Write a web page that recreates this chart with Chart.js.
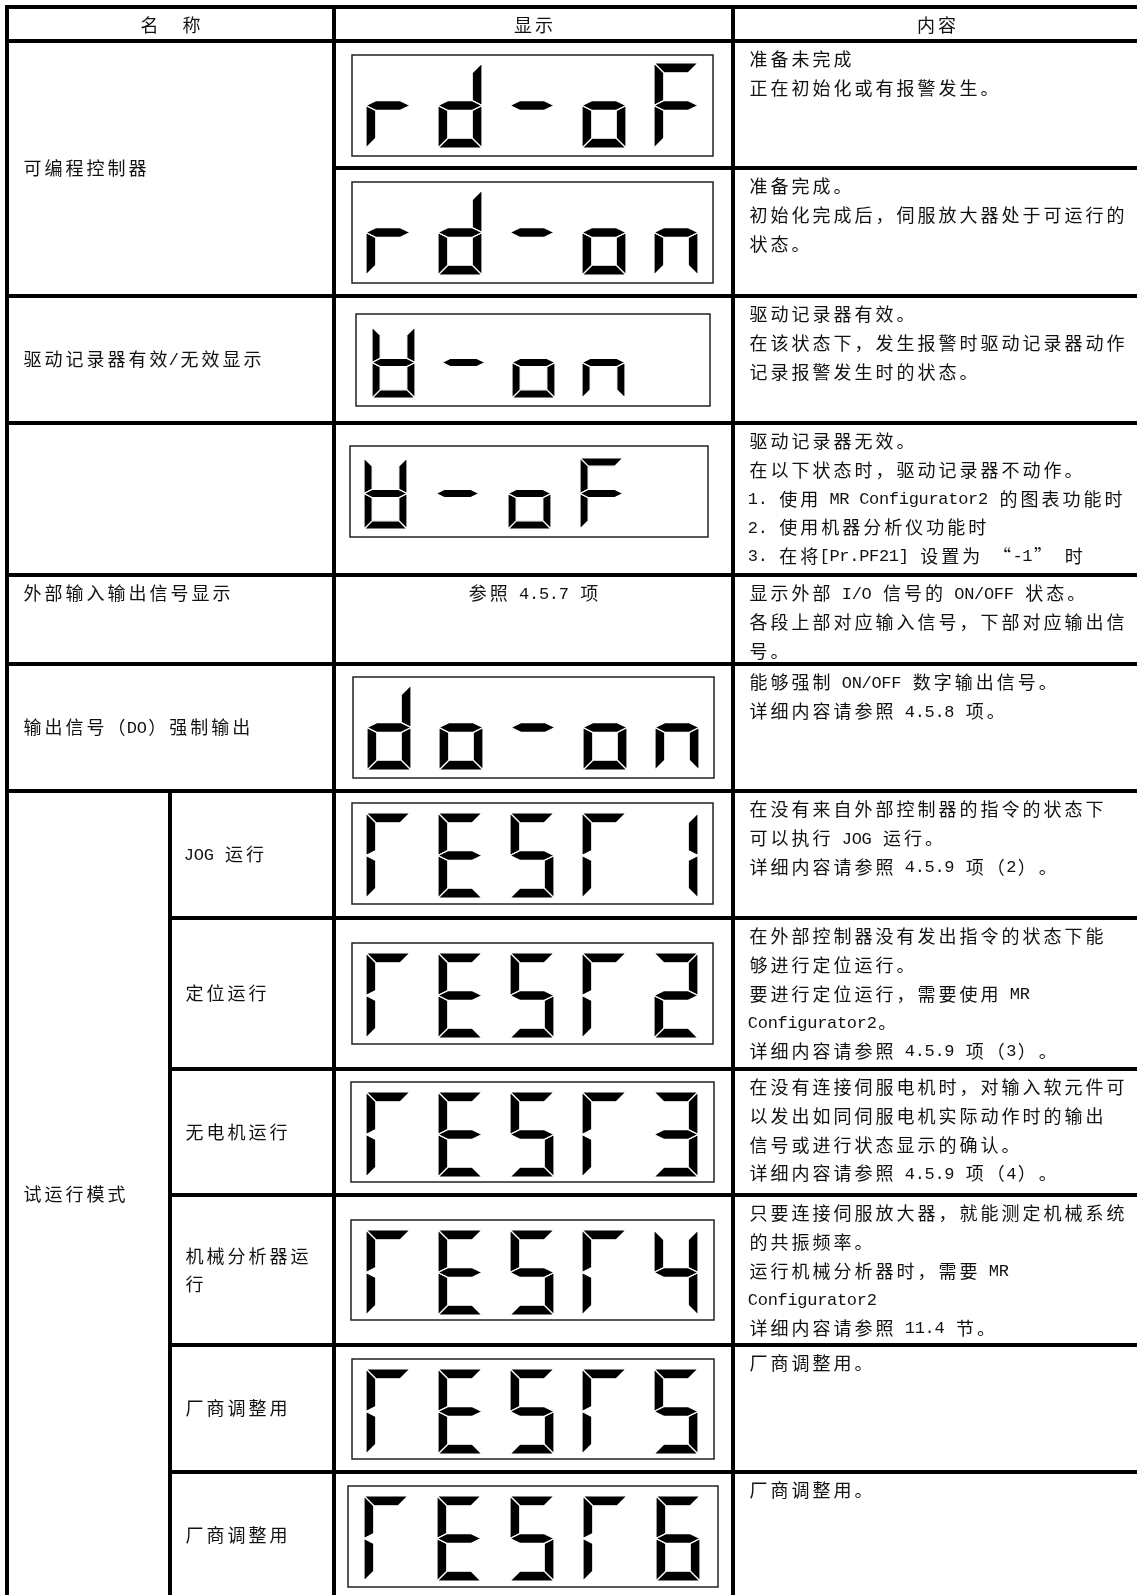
<!DOCTYPE html>
<html>
<head>
<meta charset="utf-8">
<script src="https://cdn.jsdelivr.net/npm/chart.js@4"></script>
<style>
  html, body { margin: 0; padding: 0; background: #fff; }
  #chart { display: block; }
</style>
</head>
<body>
<canvas id="chart" width="1137" height="1595"></canvas>
<script>
// table content
const headers = ['名　称', '显示', '内容'];
const names = ['可编程控制器', '驱动记录器有效/无效显示', '', '外部输入输出信号显示', '输出信号（DO）强制输出', '试运行模式'];
const nameSpans = [2, 1, 1, 1, 1, 6];
const subNames = ['JOG 运行', '定位运行', '无电机运行', '机械分析器运行', '厂商调整用', '厂商调整用'];
// 7-segment display text per row ('U' = drive recorder glyph, 'T' = test glyph)
const displays = ['rd-oF', 'rd-on', 'U-on', 'U-oF', '', 'do-on', 'TEST1', 'TEST2', 'TEST3', 'TEST4', 'TEST5', 'TEST6'];
const displayNotes = ['', '', '', '', '参照 4.5.7 项', '', '', '', '', '', '', ''];
const contents = [
  ['准备未完成', '正在初始化或有报警发生。'],
  ['准备完成。', '初始化完成后，伺服放大器处于可运行的', '状态。'],
  ['驱动记录器有效。', '在该状态下，发生报警时驱动记录器动作', '记录报警发生时的状态。'],
  ['驱动记录器无效。', '在以下状态时，驱动记录器不动作。', '1. 使用 MR Configurator2 的图表功能时', '2. 使用机器分析仪功能时', '3. 在将[Pr.PF21] 设置为 “-1” 时'],
  ['显示外部 I/O 信号的 ON/OFF 状态。', '各段上部对应输入信号，下部对应输出信', '号。'],
  ['能够强制 ON/OFF 数字输出信号。', '详细内容请参照 4.5.8 项。'],
  ['在没有来自外部控制器的指令的状态下', '可以执行 JOG 运行。', '详细内容请参照 4.5.9 项（2）。'],
  ['在外部控制器没有发出指令的状态下能', '够进行定位运行。', '要进行定位运行，需要使用 MR', 'Configurator2。', '详细内容请参照 4.5.9 项（3）。'],
  ['在没有连接伺服电机时，对输入软元件可', '以发出如同伺服电机实际动作时的输出', '信号或进行状态显示的确认。', '详细内容请参照 4.5.9 项（4）。'],
  ['只要连接伺服放大器，就能测定机械系统', '的共振频率。', '运行机械分析器时，需要 MR', 'Configurator2', '详细内容请参照 11.4 节。'],
  ['厂商调整用。'],
  ['厂商调整用。']
];

// layout (page pixels)
const colX = [7, 334, 733, 1140];
const subColX = 170;
const headerTop = 7;
const rowTops = [41, 168, 296, 423, 575, 664, 791, 918, 1069, 1195, 1345, 1472, 1598];
const topAligned = [false, false, false, false, true, false, false, false, false, false, false, false];
// box: x0, y0, x1, y1, digit start, pitch, digit top, digit w, digit h
const boxes = [
  [352, 55, 713, 156, 366, 72, 63, 44, 85],
  [352, 182, 713, 283, 366, 72, 190, 44, 85],
  [356, 314, 710, 406, 372, 70, 327, 43, 71],
  [350, 446, 708, 537, 364, 72, 458, 43, 71],
  null,
  [353, 677, 714, 778, 367, 72, 685, 44, 85],
  [352, 803, 713, 904, 366, 72, 813, 44, 85],
  [352, 943, 713, 1044, 366, 72, 953, 44, 85],
  [351, 1082, 714, 1182, 366, 72, 1092, 44, 85],
  [351, 1220, 714, 1320, 366, 72, 1230, 44, 85],
  [352, 1359, 714, 1459, 366, 72, 1369, 44, 85],
  [348, 1486, 718, 1587, 364, 73, 1496, 44, 85]
];

const SEG = {
  '1': 'bc', '2': 'abdeg', '3': 'abcdg', '4': 'bcfg', '5': 'acdfg', '6': 'acdefg',
  'r': 'eg', 'd': 'bcdeg', 'o': 'cdeg', 'n': 'ceg', 'F': 'aefg', '-': 'g',
  'T': 'aef', 'E': 'adefg', 'S': 'acdfg', 'U': 'bcdefg'
};

const FULL = 21, HALF = 9.9, LINE = 28.6;
const CJK_FONT = '18px "Noto Sans CJK SC"';
const LAT_FONT = '17px "Liberation Mono"';

function isHalf(ch) { return ch.charCodeAt(0) < 0x1100; }
function textWidth(str) {
  let w = 0;
  for (const ch of str) w += isHalf(ch) ? HALF : FULL;
  return w;
}
function drawText(ctx, str, x, y, align) {
  if (align === 'center') x -= textWidth(str) / 2;
  ctx.textAlign = 'center';
  ctx.textBaseline = 'middle';
  ctx.fillStyle = '#111';
  for (const ch of str) {
    const half = isHalf(ch);
    const cw = half ? HALF : FULL;
    if (ch !== ' ' && ch !== '　') {
      ctx.font = half ? LAT_FONT : CJK_FONT;
      ctx.fillText(ch, x + cw / 2, y + (half ? 1 : 0));
    }
    x += cw;
  }
}
function wrap(str, maxW) {
  const lines = [];
  let cur = '';
  for (const ch of str) {
    if (textWidth(cur + ch) > maxW) { lines.push(cur); cur = ch; } else cur += ch;
  }
  if (cur) lines.push(cur);
  return lines;
}

function segPoly(k, w, h, t) {
  const m = h / 2;
  switch (k) {
    case 'a': return [[0, 0], [w, 0], [w - t, t], [t, t]];
    case 'd': return [[t, h - t], [w - t, h - t], [w, h], [0, h]];
    case 'g': return [[0, m], [t, m - t / 2], [w - t, m - t / 2], [w, m], [w - t, m + t / 2], [t, m + t / 2]];
    case 'f': return [[0, 0], [t, t], [t, m - t / 2], [0, m]];
    case 'b': return [[w, 0], [w, m], [w - t, m - t / 2], [w - t, t]];
    case 'e': return [[0, m], [t, m + t / 2], [t, h - t], [0, h]];
    case 'c': return [[w, m], [w, h], [w - t, h - t], [w - t, m + t / 2]];
  }
}

const tablePlugin = {
  id: 'tablePlugin',
  beforeDraw(chart) {
    const ctx = chart.ctx;
    ctx.save();
    ctx.fillStyle = '#fff';
    ctx.fillRect(0, 0, chart.width, chart.height);
    ctx.restore();
  },
  afterDraw(chart) {
    const ctx = chart.ctx;
    const px = v => chart.scales.x.getPixelForValue(v);
    const py = v => chart.scales.y.getPixelForValue(v);
    ctx.save();

    // header
    headers.forEach((h, i) => {
      drawText(ctx, h, (px(colX[i]) + px(colX[i + 1])) / 2, (py(headerTop) + py(rowTops[0])) / 2 + 1, 'center');
    });

    // name column
    let r = 0;
    names.forEach((n, i) => {
      const span = nameSpans[i];
      const top = rowTops[r], bot = rowTops[r + span];
      const y = topAligned[r] ? py(top) + 18.5 : (py(top) + py(bot)) / 2;
      if (n) drawText(ctx, n, px(colX[0]) + 15, y, 'left');
      r += span;
    });
    // sub names for test mode rows
    const subStart = rowTops.length - 1 - subNames.length;
    subNames.forEach((s, i) => {
      const top = rowTops[subStart + i], bot = rowTops[subStart + i + 1];
      const lines = wrap(s, px(colX[1]) - px(subColX) - 28);
      const cy = (py(top) + py(bot)) / 2 - (lines.length - 1) * LINE / 2;
      lines.forEach((l, j) => drawText(ctx, l, px(subColX) + 14, cy + j * LINE, 'left'));
    });

    // display column
    displays.forEach((txt, i) => {
      const b = boxes[i];
      if (b) {
        ctx.lineWidth = 1.5;
        ctx.strokeStyle = '#222';
        ctx.strokeRect(px(b[0]), py(b[1]), px(b[2]) - px(b[0]), py(b[3]) - py(b[1]));
        const w = b[7], h = b[8], t = h * 0.115;
        [...txt].forEach((ch, j) => {
          const ox = px(b[4] + j * b[5]), oy = py(b[6]);
          for (const k of (SEG[ch] || '')) {
            const pts = segPoly(k, w, h, t);
            ctx.beginPath();
            pts.forEach((p, n) => n ? ctx.lineTo(ox + p[0], oy + p[1]) : ctx.moveTo(ox + p[0], oy + p[1]));
            ctx.closePath();
            ctx.fillStyle = '#000';
            ctx.fill();
            ctx.lineWidth = 1.2;
            ctx.strokeStyle = '#fff';
            ctx.lineJoin = 'miter';
            ctx.stroke();
          }
        });
      }
      if (displayNotes[i]) {
        const y = topAligned[i] ? py(rowTops[i]) + 18.5 : (py(rowTops[i]) + py(rowTops[i + 1])) / 2;
        drawText(ctx, displayNotes[i], (px(colX[1]) + px(colX[2])) / 2, y, 'center');
      }
    });

    // content column
    contents.forEach((lines, i) => {
      lines.forEach((l, j) => drawText(ctx, l, px(colX[2]) + 15, py(rowTops[i]) + 18.5 + j * LINE, 'left'));
    });

    // grid lines
    ctx.strokeStyle = '#000';
    ctx.lineWidth = 4;
    ctx.lineCap = 'square';
    const hl = (y, x0, x1) => { ctx.beginPath(); ctx.moveTo(px(x0), py(y)); ctx.lineTo(px(x1), py(y)); ctx.stroke(); };
    const vl = (x, y0, y1) => { ctx.beginPath(); ctx.moveTo(px(x), py(y0)); ctx.lineTo(px(x), py(y1)); ctx.stroke(); };
    hl(headerTop, colX[0], colX[3]);
    hl(rowTops[0], colX[0], colX[3]);
    // name-column merged rows
    let rr = 0;
    nameSpans.forEach((span, i) => {
      for (let k = 1; k < span; k++) {
        const x0 = (i === nameSpans.length - 1) ? subColX : colX[1];
        hl(rowTops[rr + k], x0, colX[3]);
      }
      rr += span;
      hl(rowTops[rr], colX[0], colX[3]);
    });
    const last = rowTops[rowTops.length - 1];
    colX.forEach(x => vl(x, headerTop, last));
    vl(subColX, rowTops[subStart], last);
    ctx.restore();
  }
};

const ctx = document.getElementById('chart').getContext('2d');
const chart = new Chart(ctx, {
  type: 'scatter',
  data: { datasets: [{ data: [], pointRadius: 0 }] },
  options: {
    responsive: false,
    animation: false,
    devicePixelRatio: 1,
    layout: { padding: 0 },
    plugins: { legend: { display: false }, tooltip: { enabled: false } },
    scales: {
      x: { type: 'linear', min: 0, max: 1137, display: false },
      y: { type: 'linear', min: 0, max: 1595, reverse: true, display: false }
    }
  },
  plugins: [tablePlugin]
});
</script>
</body>
</html>
